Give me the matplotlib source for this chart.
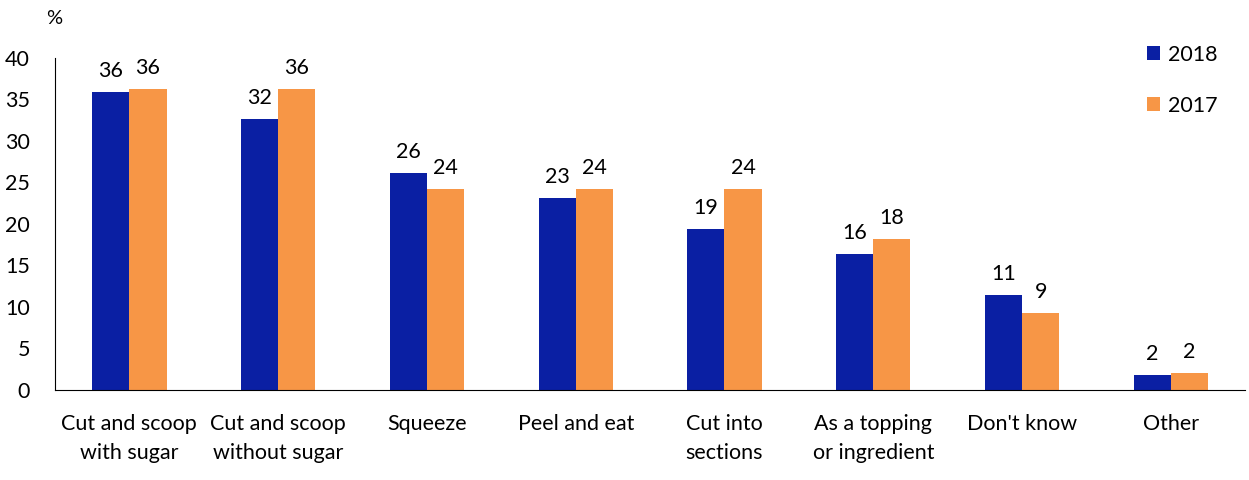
import numpy as np
import matplotlib.pyplot as plt

plt.rcParams['font.family'] = ['Lato', 'DejaVu Sans']

# data
categories = ["Cut and scoop\nwith sugar", "Cut and scoop\nwithout sugar", "Squeeze",
              "Peel and eat", "Cut into\nsections", "As a topping\nor ingredient",
              "Don't know", "Other"]
values_2018 = [35.9, 32.6, 26.1, 23.1, 19.4, 16.4, 11.4, 1.8]
values_2017 = [36.3, 36.3, 24.2, 24.2, 24.2, 18.2, 9.3, 2.0]
labels_2018 = [36, 32, 26, 23, 19, 16, 11, 2]
labels_2017 = [36, 36, 24, 24, 24, 18, 9, 2]

blue = "#0A1FA3"
orange = "#F79646"
fs = 15.5

fig = plt.figure(figsize=(12.49, 4.8), dpi=100)
ax = fig.add_axes([0.044, 0.1875, 0.953, 0.6917])

x = np.arange(len(categories))
w = 0.25
b1 = ax.bar(x - w / 2, values_2018, w, color=blue, label="2018")
b2 = ax.bar(x + w / 2, values_2017, w, color=orange, label="2017")

for bars, labs in ((b1, labels_2018), (b2, labels_2017)):
    for rect, lab in zip(bars, labs):
        ax.annotate(str(lab), (rect.get_x() + rect.get_width() / 2, rect.get_height()),
                    xytext=(0, 8), textcoords="offset points",
                    ha="center", va="bottom", fontsize=fs)

ax.set_xlim(-0.5, len(categories) - 0.5)
ax.set_ylim(0, 40)
ax.set_yticks(range(0, 41, 5))
ax.set_xticks(x)
ax.set_xticklabels(categories, fontsize=fs, linespacing=1.6)
ax.tick_params(axis="y", length=0, labelsize=fs, pad=18)
ax.tick_params(axis="x", length=0, pad=17)
ax.spines["top"].set_visible(False)
ax.spines["right"].set_visible(False)

fig.text(0.037, 0.962, "%", fontsize=fs - 1, ha="left", va="center")

ax.legend(loc="upper right", bbox_to_anchor=(1226 / 1249, 1 - 36 / 480),
          bbox_transform=fig.transFigure, frameon=False, fontsize=fs,
          handlelength=0.6, handleheight=0.6, handletextpad=0.35,
          labelspacing=1.45, borderaxespad=0)

plt.savefig("out.png", dpi=100)
